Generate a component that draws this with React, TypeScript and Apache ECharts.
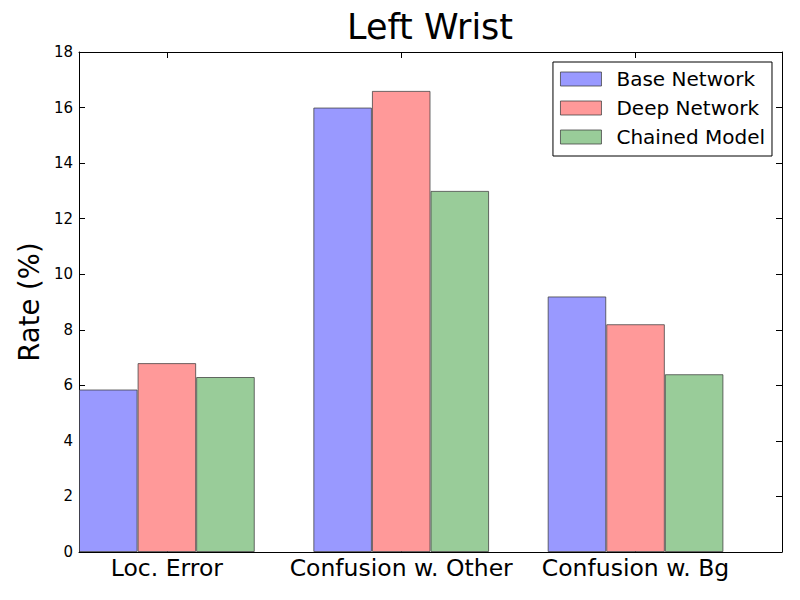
import React, { useEffect, useRef } from "react";
import * as echarts from "echarts";

const categories = ["Loc. Error", "Confusion w. Other", "Confusion w. Bg"];
const seriesNames = ["Base Network", "Deep Network", "Chained Model"];
const baseNetwork = [5.85, 16.0, 9.2];
const deepNetwork = [6.8, 16.6, 8.2];
const chainedModel = [6.3, 13.0, 6.4];
const yTicks = [0, 2, 4, 6, 8, 10, 12, 14, 16, 18];

const colors = ["#9999ff", "#ff9999", "#99cc99"];
const FONT = "DejaVu Sans";

export default function App() {
  const ref = useRef<HTMLDivElement>(null);
  useEffect(() => {
    if (!ref.current) return;
    const chart = echarts.init(ref.current, null, { renderer: "svg" });
    const slots = 4;
    const slotCats: string[] = [];
    categories.forEach((c) => {
      for (let i = 0; i < slots; i++) slotCats.push(i === 1 ? c : "");
    });
    const all = [baseNetwork, deepNetwork, chainedModel];
    const series = all.map((vals, si) => {
      const data: (number | string)[] = [];
      vals.forEach((v) => {
        for (let i = 0; i < slots; i++) data.push(i === si ? v : "-");
      });
      return {
        name: seriesNames[si],
        type: "bar",
        data,
        barWidth: "100%",
        barGap: "-100%",
        itemStyle: {
          color: colors[si],
          borderColor: "rgba(60,60,60,0.75)",
          borderWidth: 1,
        },
      };
    });
    const tickShow = (idx: number) => idx % slots === 1;
    chart.setOption({
      animation: false,
      title: {
        text: "Left Wrist",
        left: 347,
        top: 9,
        padding: 0,
        textStyle: { fontFamily: FONT, fontSize: 35, fontWeight: "normal", color: "#000" },
      },
      legend: {
        orient: "vertical",
        right: 28,
        top: 62,
        data: seriesNames,
        icon: "rect",
        itemWidth: 41,
        itemHeight: 14,
        itemGap: 9,
        padding: [7, 7, 9, 7],
        borderColor: "#000",
        borderWidth: 1,
        borderRadius: 0,
        backgroundColor: "#fff",
        textStyle: { fontFamily: FONT, fontSize: 20, color: "#000", padding: [0, 0, 0, 10] },
        itemStyle: { borderColor: "rgba(60,60,60,0.75)", borderWidth: 1 },
      },
      grid: { left: 79, right: 18, top: 52, bottom: 48, containLabel: false },
      xAxis: [
        {
          type: "category",
          data: slotCats,
          position: "bottom",
          axisLine: { onZero: false, lineStyle: { color: "#000", width: 1 } },
          axisTick: { show: true, inside: true, length: 6, interval: tickShow, alignWithLabel: true, lineStyle: { color: "#000" } },
          axisLabel: { interval: 0, fontFamily: FONT, fontSize: 23.5, color: "#000", margin: 4 },
          splitLine: { show: false },
        },
        {
          type: "category",
          data: slotCats,
          position: "top",
          axisLine: { onZero: false, lineStyle: { color: "#000", width: 1 } },
          axisTick: { show: true, inside: true, length: 6, interval: tickShow, alignWithLabel: true, lineStyle: { color: "#000" } },
          axisLabel: { show: false },
          splitLine: { show: false },
        },
      ],
      yAxis: [
        {
          type: "value",
          min: yTicks[0],
          max: yTicks[yTicks.length - 1],
          interval: 2,
          position: "left",
          name: "Rate (%)",
          nameLocation: "middle",
          nameGap: 36,
          nameRotate: 90,
          nameTextStyle: { fontFamily: FONT, fontSize: 27.5, color: "#000" },
          axisLine: { show: true, onZero: false, lineStyle: { color: "#000", width: 1 } },
          axisTick: { show: true, inside: true, length: 6, lineStyle: { color: "#000" } },
          axisLabel: { fontFamily: FONT, fontSize: 15, color: "#000", margin: 6 },
          splitLine: { show: false },
        },
        {
          type: "value",
          min: yTicks[0],
          max: yTicks[yTicks.length - 1],
          interval: 2,
          position: "right",
          axisLine: { show: true, onZero: false, lineStyle: { color: "#000", width: 1 } },
          axisTick: { show: true, inside: true, length: 6, lineStyle: { color: "#000" } },
          axisLabel: { show: false },
          splitLine: { show: false },
        },
      ],
      series,
    });
    return () => chart.dispose();
  }, []);
  return (
    <div
      ref={ref}
      style={{ position: "fixed", left: 0, top: 0, width: 800, height: 600, background: "#fff" }}
    />
  );
}
